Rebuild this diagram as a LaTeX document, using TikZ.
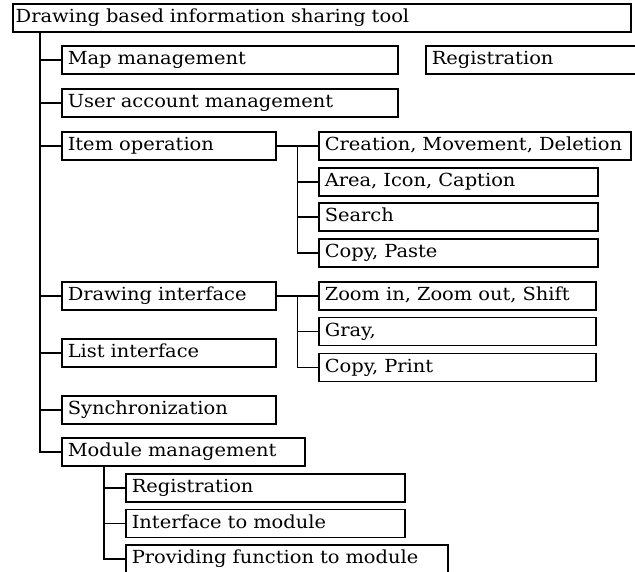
\documentclass[tikz,border=0pt]{standalone}
\usepackage{fontspec}
\setmainfont{DejaVu Serif}[FakeStretch=1.08]
\usepackage{tikz}
\usetikzlibrary{positioning}
\usetikzlibrary{calc}

\tikzset{
  func/.style={draw, anchor=west, align=left, inner xsep=6pt, inner ysep=0pt,
    text height=13pt, text depth=4pt, minimum height=28pt,
    font=\fontsize{18}{21}\selectfont},
}

\begin{document}
\begin{tikzpicture}[x=1pt, y=-1pt, line width=1.5pt]
    \useasboundingbox (0,0) rectangle (635,572);

    \node[func, inner xsep=3pt, text width=612pt] (tool) at (12,18) {Drawing based information sharing tool};

    % first level
    \node[func, text width=324pt] (map) at (61,60) {Map management};
    \node[func, text width=203pt] (registration) at (425,60) {Registration};
    \node[func, text width=324pt] (user) at (61,103) {User account management};
    \node[func, text width=202pt] (itemop) at (61,146) {Item operation};
    \node[func, text width=202pt] (drawif) at (61,296) {Drawing interface};
    \node[func, text width=202pt] (listif) at (61,353) {List interface};
    \node[func, text width=202pt] (sync) at (61,410) {Synchronization};
    \node[func, text width=231pt] (module) at (61,452) {Module management};

    % item operation
    \node[func, text width=300pt] (create) at (318,146) {Creation, Movement, Deletion};
    \node[func, text width=267pt] (area) at (318,182) {Area, Icon, Caption};
    \node[func, text width=267pt] (search) at (318,217) {Search};
    \node[func, text width=267pt] (copypaste) at (318,253) {Copy, Paste};

    % drawing interface
    \node[func, text width=265pt] (zoom) at (318,296) {Zoom in, Zoom out, Shift};
    \node[func, text width=265pt] (gray) at (318,331.5) {Gray,};
    \node[func, text width=265pt] (copyprint) at (318,367.5) {Copy, Print};

    % module management
    \node[func, text width=267pt] (modreg) at (125,488) {Registration};
    \node[func, text width=267pt] (modif) at (125,523.5) {Interface to module};
    \node[func, text width=310pt] (modfunc) at (125,559) {Providing function to module};

    \coordinate (trunk) at (40,32);
    \coordinate (itemfork) at ($(itemop.east)!0.5!(create.west)$);
    \coordinate (drawfork) at ($(drawif.east)!0.5!(zoom.west)$);
    \coordinate (modfork) at ([xshift=43pt]module.south west);

    \draw (trunk) |- (module.west);
    \foreach \n in {map, user, itemop, drawif, listif, sync}
        \draw (trunk |- \n.west) -- (\n.west);

    \draw (itemop.east) -- (create.west);
    \draw (itemfork) |- (copypaste.west);
    \foreach \n in {area, search}
        \draw (itemfork |- \n.west) -- (\n.west);

    \draw (drawif.east) -- (zoom.west);
    \draw (drawfork) |- (copyprint.west);
    \draw (drawfork |- gray.west) -- (gray.west);

    \draw (modfork) |- (modfunc.west);
    \draw (modfork |- modreg.west) -- (modreg.west);
    \draw (modfork |- modif.west) -- (modif.west);
\end{tikzpicture}
\end{document}
